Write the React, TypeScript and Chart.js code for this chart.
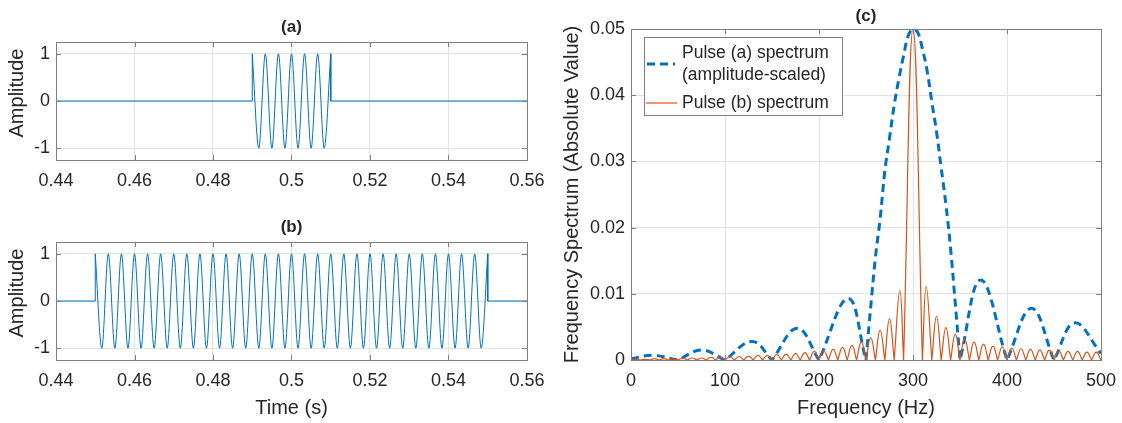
import React, { useEffect, useRef } from 'react';
import { Chart, registerables } from 'chart.js';

Chart.register(...registerables);

const FONT = '"Liberation Sans", Arial, Helvetica, sans-serif';
const TEXT = '#262626';
const GRID = '#e2e2e2';
const AXIS = '#7f7f7f';
const BLUE = '#0072BD';
const ORANGE = '#D95319';
const TICK_LEN = 5;

// ---------- tick labels ----------
const timeTicks = [0.44, 0.46, 0.48, 0.5, 0.52, 0.54, 0.56];
const timeTickLabels = ['0.44', '0.46', '0.48', '0.5', '0.52', '0.54', '0.56'];
const ampTicks = [-1, 0, 1];
const ampTickLabels = ['-1', '0', '1'];
const freqTicks = [0, 100, 200, 300, 400, 500];
const freqTickLabels = ['0', '100', '200', '300', '400', '500'];
const specTicks = [0, 0.01, 0.02, 0.03, 0.04, 0.05];
const specTickLabels = ['0', '0.01', '0.02', '0.03', '0.04', '0.05'];

// ---------- titles / labels ----------
const panelTitles = ['(a)', '(b)', '(c)'];
const ampLabel = 'Amplitude';
const timeLabel = 'Time (s)';
const freqLabel = 'Frequency (Hz)';
const specLabel = 'Frequency Spectrum (Absolute Value)';
const legendA = ['Pulse (a) spectrum', '(amplitude-scaled)'];
const legendB = ['Pulse (b) spectrum'];

// ---------- time-domain pulses ----------
const timeRange = [0.44, 0.56];
const ampRange = [-1.25, 1.25];

const pulseAWindow = [0.49, 0.51];
const pulseAPeakTimes = [0.49, 0.49167, 0.49333, 0.495, 0.49667, 0.49833, 0.5, 0.50167, 0.50333, 0.505, 0.50667, 0.50833, 0.51];
const pulseAPeakAmps = [1, -1, 1, -1, 1, -1, 1, -1, 1, -1, 1, -1, 1];

const pulseBWindow = [0.45, 0.55];
const pulseBPeakTimes = [
  0.45, 0.45167, 0.45333, 0.455, 0.45667, 0.45833,
  0.46, 0.46167, 0.46333, 0.465, 0.46667, 0.46833,
  0.47, 0.47167, 0.47333, 0.475, 0.47667, 0.47833,
  0.48, 0.48167, 0.48333, 0.485, 0.48667, 0.48833,
  0.49, 0.49167, 0.49333, 0.495, 0.49667, 0.49833,
  0.5, 0.50167, 0.50333, 0.505, 0.50667, 0.50833,
  0.51, 0.51167, 0.51333, 0.515, 0.51667, 0.51833,
  0.52, 0.52167, 0.52333, 0.525, 0.52667, 0.52833,
  0.53, 0.53167, 0.53333, 0.535, 0.53667, 0.53833,
  0.54, 0.54167, 0.54333, 0.545, 0.54667, 0.54833,
  0.55,
];
const pulseBPeakAmps = [
  1, -1, 1, -1, 1, -1,
  1, -1, 1, -1, 1, -1,
  1, -1, 1, -1, 1, -1,
  1, -1, 1, -1, 1, -1,
  1, -1, 1, -1, 1, -1,
  1, -1, 1, -1, 1, -1,
  1, -1, 1, -1, 1, -1,
  1, -1, 1, -1, 1, -1,
  1, -1, 1, -1, 1, -1,
  1, -1, 1, -1, 1, -1,
  1,
];

// ---------- spectra ----------
const freqRange = [0, 500];
const specRange = [0, 0.05];

// Pulse (a) spectrum (amplitude-scaled), dashed
const pulseASpecFreqs = [0, 23, 50, 75, 100, 129, 150, 177, 200, 231, 250,
  255, 260, 265, 270, 275, 280, 285, 290, 295, 300, 305, 310, 315, 320, 325, 330, 335, 340, 345, 350,
  372, 400, 426, 450, 472, 500];
const pulseASpecMags = [0.0002, 0.0007, 0, 0.0015, 0, 0.0028, 0, 0.0048, 0, 0.0093, 0,
  0.008, 0.0155, 0.0213, 0.0285, 0.0335, 0.0385, 0.0425, 0.046, 0.049, 0.05, 0.0495, 0.047, 0.0437, 0.039, 0.0345, 0.029, 0.0235, 0.0168, 0.0085, 0,
  0.0121, 0, 0.0078, 0, 0.0056, 0.001];

// Pulse (b) spectrum: nulls and lobe peaks
const pulseBNullFreqs = [0, 10, 20, 30, 40, 50, 60, 70, 80, 90, 100, 110, 120, 130, 140, 150, 160, 170, 180, 190,
  200, 210, 220, 230, 240, 250, 260, 270, 280, 290, 310, 320, 330, 340, 350, 360, 370, 380, 390,
  400, 410, 420, 430, 440, 450, 460, 470, 480, 490, 500];
const pulseBPeakFreqs = [5, 15, 25, 35, 45, 55, 65, 75, 85, 95, 105, 115, 125, 135, 145, 155, 165, 175, 185, 195,
  205, 215, 225, 235, 245, 255, 265, 275, 286, 300, 314, 325, 335, 345, 355, 365, 375, 385, 395,
  405, 415, 425, 435, 445, 455, 465, 475, 485, 495];
const pulseBPeakMags = [0.0001, 0.0001, 0.0002, 0.0002, 0.0002, 0.0003, 0.0003, 0.0003, 0.0004, 0.0004,
  0.0005, 0.0005, 0.0006, 0.0007, 0.0007, 0.0008, 0.0009, 0.001, 0.0011, 0.0013,
  0.0014, 0.0016, 0.0019, 0.0022, 0.0027, 0.0034, 0.0045, 0.0062, 0.0105, 0.05,
  0.0111, 0.0066, 0.0049, 0.0039, 0.0032, 0.0027, 0.0024, 0.0021, 0.002,
  0.0018, 0.0017, 0.0016, 0.0015, 0.0015, 0.0014, 0.0013, 0.0013, 0.0012, 0.0012];

// ---------- table builders ----------
function wavePoints(times: number[], amps: number[]) {
  return times.map((t, i) => ({ x: t, y: amps[i] }));
}
function offPoints(win: number[], times: number[], amps: number[]) {
  return [
    { x: timeRange[0], y: 0 },
    { x: win[0], y: 0 },
    { x: times[0], y: amps[0] },
    { x: (win[0] + win[1]) / 2, y: null },
    { x: times[times.length - 1], y: amps[amps.length - 1] },
    { x: win[1], y: 0 },
    { x: timeRange[1], y: 0 },
  ];
}
// duplicate interior nulls so the curve forms a cusp there
function lobeTable(freqs: number[], mags: number[]) {
  const out: { x: number; y: number }[] = [];
  freqs.forEach((f, i) => {
    out.push({ x: f, y: mags[i] });
    if (mags[i] === 0 && i > 0 && i < freqs.length - 1) out.push({ x: f, y: 0 });
  });
  return out;
}
function mergeLobes(nulls: number[], peaks: number[], mags: number[]) {
  const rows = [
    ...nulls.map((f) => ({ f, m: 0 })),
    ...peaks.map((f, i) => ({ f, m: mags[i] })),
  ].sort((a, b) => a.f - b.f);
  return lobeTable(rows.map((r) => r.f), rows.map((r) => r.m));
}

// ---------- decoration plugin ----------
type DecorCfg = {
  title: string;
  titleY: number;
  yLabel?: string;
  yLabelX?: number;
  yLabelShift?: number;
  legend?: boolean;
};

function makeDecor(cfg: DecorCfg) {
  return {
    id: 'decor',
    afterDraw(chart: any) {
      const { ctx, chartArea: a, scales } = chart;
      const xs = scales.x;
      const ys = scales.y;
      ctx.save();
      ctx.setLineDash([]);
      ctx.strokeStyle = AXIS;
      ctx.lineWidth = 1;
      ctx.beginPath();
      for (const t of xs.ticks) {
        const px = Math.round(xs.getPixelForValue(t.value)) + 0.5;
        ctx.moveTo(px, a.bottom);
        ctx.lineTo(px, a.bottom - TICK_LEN);
        ctx.moveTo(px, a.top);
        ctx.lineTo(px, a.top + TICK_LEN);
      }
      for (const t of ys.ticks) {
        const py = Math.round(ys.getPixelForValue(t.value)) + 0.5;
        ctx.moveTo(a.left, py);
        ctx.lineTo(a.left + TICK_LEN, py);
        ctx.moveTo(a.right, py);
        ctx.lineTo(a.right - TICK_LEN, py);
      }
      ctx.stroke();
      ctx.strokeRect(Math.round(a.left) + 0.5, Math.round(a.top) + 0.5, Math.round(a.right - a.left), Math.round(a.bottom - a.top));

      // title
      ctx.fillStyle = TEXT;
      ctx.font = `bold 17px ${FONT}`;
      ctx.textAlign = 'center';
      ctx.textBaseline = 'middle';
      ctx.fillText(cfg.title, (a.left + a.right) / 2, cfg.titleY);

      // y label
      if (cfg.yLabel) {
        ctx.save();
        ctx.translate(cfg.yLabelX || 17, (a.top + a.bottom) / 2 + (cfg.yLabelShift || 0));
        ctx.rotate(-Math.PI / 2);
        ctx.font = `20px ${FONT}`;
        ctx.fillText(cfg.yLabel, 0, 0);
        ctx.restore();
      }

      // legend
      if (cfg.legend) {
        const lx = Math.round(a.left) + 13;
        const ly = Math.round(a.top) + 8;
        const w = 198;
        const h = 78;
        ctx.fillStyle = '#ffffff';
        ctx.fillRect(lx, ly, w, h);
        ctx.strokeStyle = AXIS;
        ctx.lineWidth = 1;
        ctx.strokeRect(lx + 0.5, ly + 0.5, w, h);

        ctx.strokeStyle = BLUE;
        ctx.lineWidth = 3;
        ctx.setLineDash([8, 5]);
        ctx.beginPath();
        ctx.moveTo(lx + 3, ly + 27);
        ctx.lineTo(lx + 31, ly + 27);
        ctx.stroke();

        ctx.setLineDash([]);
        ctx.strokeStyle = ORANGE;
        ctx.lineWidth = 1.2;
        ctx.beginPath();
        ctx.moveTo(lx + 2, ly + 66);
        ctx.lineTo(lx + 33, ly + 66);
        ctx.stroke();

        ctx.fillStyle = TEXT;
        ctx.font = `17.5px ${FONT}`;
        ctx.textAlign = 'left';
        ctx.textBaseline = 'middle';
        ctx.fillText(legendA[0], lx + 38, ly + 16);
        ctx.fillText(legendA[1], lx + 38, ly + 38);
        ctx.fillText(legendB[0], lx + 38, ly + 66);
      }
      ctx.restore();
    },
  };
}

// ---------- scale builder ----------
function axis(opts: {
  min: number;
  max: number;
  ticks: number[];
  labels: string[];
  horizontal: boolean;
  size: number;
  pad: number;
  title?: string;
  titlePad?: { top: number; bottom: number };
}) {
  const o: any = {
    type: 'linear',
    min: opts.min,
    max: opts.max,
    afterBuildTicks: (s: any) => {
      s.ticks = opts.ticks.map((v) => ({ value: v }));
    },
    afterFit: (s: any) => {
      if (opts.horizontal) {
        s.height = opts.size;
        s.paddingLeft = 0;
        s.paddingRight = 0;
      } else {
        s.width = opts.size;
        s.paddingTop = 0;
        s.paddingBottom = 0;
      }
    },
    ticks: {
      autoSkip: false,
      maxRotation: 0,
      minRotation: 0,
      padding: opts.pad,
      color: TEXT,
      font: { family: FONT, size: 18 },
      callback: (_v: any, i: number) => opts.labels[i],
    },
    grid: { color: GRID, lineWidth: 1, drawTicks: false },
    border: { display: false },
  };
  if (opts.title) {
    o.title = {
      display: true,
      text: opts.title,
      color: TEXT,
      font: { family: FONT, size: 20 },
      padding: opts.titlePad,
    };
  }
  return o;
}

const baseOptions = (padding: any) => ({
  animation: false,
  responsive: false,
  maintainAspectRatio: false,
  events: [],
  layout: { padding },
  plugins: {
    legend: { display: false },
    tooltip: { enabled: false },
    title: { display: false },
  },
  elements: { point: { radius: 0 } },
});

function makeTimeChart(which: 'a' | 'b') {
  const isA = which === 'a';
  const times = isA ? pulseAPeakTimes : pulseBPeakTimes;
  const amps = isA ? pulseAPeakAmps : pulseBPeakAmps;
  const win = isA ? pulseAWindow : pulseBWindow;
  return {
    type: 'line',
    data: {
      datasets: [
        {
          label: 'pulse',
          data: wavePoints(times, amps),
          borderColor: BLUE,
          borderWidth: 1,
          cubicInterpolationMode: 'monotone',
          fill: false,
        },
        {
          label: 'off',
          data: offPoints(win, times, amps),
          borderColor: BLUE,
          borderWidth: 1,
          tension: 0,
          spanGaps: false,
          fill: false,
        },
      ],
    },
    options: {
      ...baseOptions({ left: 0, right: 33, top: 42, bottom: 0 }),
      scales: {
        x: axis({
          min: timeRange[0], max: timeRange[1], ticks: timeTicks, labels: timeTickLabels,
          horizontal: true, size: isA ? 40 : 63, pad: 10,
          title: isA ? undefined : timeLabel, titlePad: { top: 0, bottom: 3 },
        }),
        y: axis({
          min: ampRange[0], max: ampRange[1], ticks: ampTicks, labels: ampTickLabels,
          horizontal: false, size: 56, pad: 6,
        }),
      },
    },
    plugins: [makeDecor({ title: isA ? panelTitles[0] : panelTitles[1], titleY: 27, yLabel: ampLabel, yLabelX: 17, yLabelShift: -8 })],
  };
}

function makeSpecChart() {
  return {
    type: 'line',
    data: {
      datasets: [
        {
          label: legendB[0],
          data: mergeLobes(pulseBNullFreqs, pulseBPeakFreqs, pulseBPeakMags),
          borderColor: ORANGE,
          borderWidth: 1.2,
          tension: 0.45,
          fill: false,
          order: 0,
        },
        {
          label: legendA.join(' '),
          data: lobeTable(pulseASpecFreqs, pulseASpecMags),
          borderColor: BLUE,
          borderWidth: 3,
          borderDash: [8, 5],
          tension: 0.4,
          fill: false,
          order: 1,
        },
      ],
    },
    options: {
      ...baseOptions({ left: 0, right: 21, top: 29, bottom: 0 }),
      scales: {
        x: axis({
          min: freqRange[0], max: freqRange[1], ticks: freqTicks, labels: freqTickLabels,
          horizontal: true, size: 63, pad: 10,
          title: freqLabel, titlePad: { top: 0, bottom: 3 },
        }),
        y: axis({
          min: specRange[0], max: specRange[1], ticks: specTicks, labels: specTickLabels,
          horizontal: false, size: 71, pad: 6,
          title: specLabel, titlePad: { top: 0, bottom: 0 },
        }),
      },
    },
    plugins: [makeDecor({ title: panelTitles[2], titleY: 16, legend: true })],
  };
}

function ChartCanvas(props: { make: () => any; left: number; top: number; width: number; height: number }) {
  const ref = useRef<HTMLCanvasElement>(null);
  useEffect(() => {
    const chart = new Chart(ref.current as HTMLCanvasElement, props.make());
    return () => chart.destroy();
  }, []);
  return (
    <canvas
      ref={ref}
      width={props.width}
      height={props.height}
      style={{ position: 'absolute', left: props.left, top: props.top, width: props.width, height: props.height }}
    />
  );
}

export default function App() {
  return (
    <div style={{ position: 'absolute', left: 0, top: 0, width: 1122, height: 423, background: '#ffffff', overflow: 'hidden' }}>
      <ChartCanvas make={() => makeTimeChart('a')} left={0} top={0} width={560} height={200} />
      <ChartCanvas make={() => makeTimeChart('b')} left={0} top={200} width={560} height={223} />
      <ChartCanvas make={makeSpecChart} left={560} top={0} width={562} height={423} />
    </div>
  );
}
